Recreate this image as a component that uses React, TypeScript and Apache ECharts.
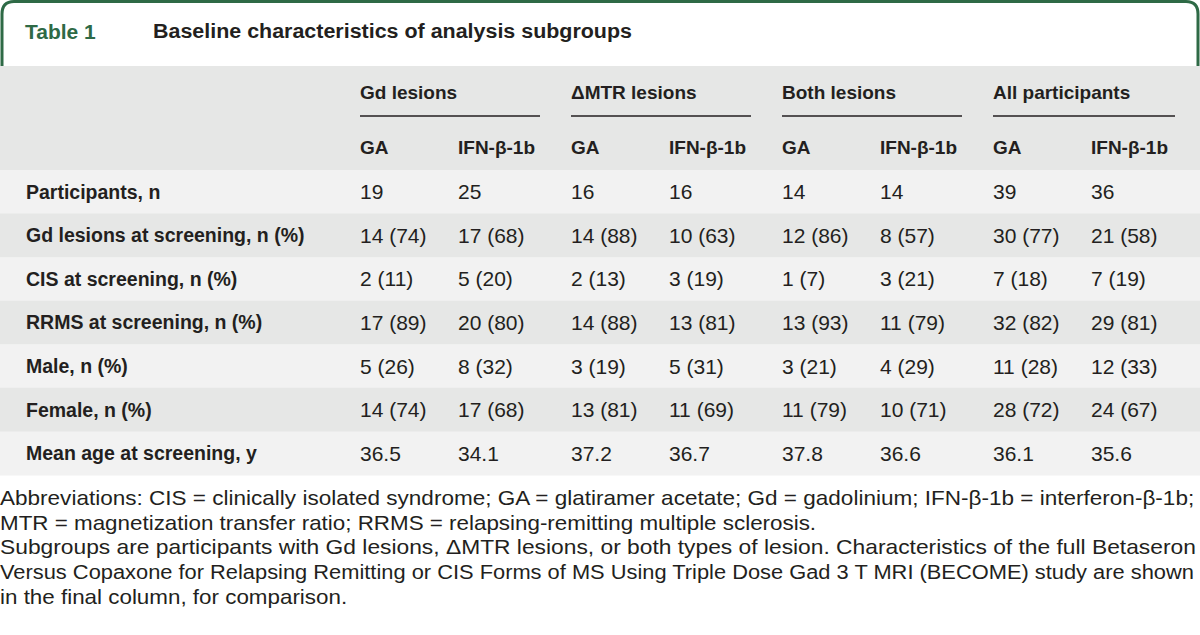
import React, { useEffect, useRef } from "react";
import * as echarts from "echarts";

const tableLabel = "Table 1";
const tableTitle = "Baseline characteristics of analysis subgroups";
const groupHeaders = ["Gd lesions", "ΔMTR lesions", "Both lesions", "All participants"];
const armHeaders = ["GA", "IFN-β-1b"];
const rowLabels = [
  "Participants, n",
  "Gd lesions at screening, n (%)",
  "CIS at screening, n (%)",
  "RRMS at screening, n (%)",
  "Male, n (%)",
  "Female, n (%)",
  "Mean age at screening, y",
];
const gdGA = ["19", "14 (74)", "2 (11)", "17 (89)", "5 (26)", "14 (74)", "36.5"];
const gdIFN = ["25", "17 (68)", "5 (20)", "20 (80)", "8 (32)", "17 (68)", "34.1"];
const mtrGA = ["16", "14 (88)", "2 (13)", "14 (88)", "3 (19)", "13 (81)", "37.2"];
const mtrIFN = ["16", "10 (63)", "3 (19)", "13 (81)", "5 (31)", "11 (69)", "36.7"];
const bothGA = ["14", "12 (86)", "1 (7)", "13 (93)", "3 (21)", "11 (79)", "37.8"];
const bothIFN = ["14", "8 (57)", "3 (21)", "11 (79)", "4 (29)", "10 (71)", "36.6"];
const allGA = ["39", "30 (77)", "7 (18)", "32 (82)", "11 (28)", "28 (72)", "36.1"];
const allIFN = ["36", "21 (58)", "7 (19)", "29 (81)", "12 (33)", "24 (67)", "35.6"];
const footnoteLines = [
  "Abbreviations: CIS = clinically isolated syndrome; GA = glatiramer acetate; Gd = gadolinium; IFN-β-1b = interferon-β-1b;",
  "MTR = magnetization transfer ratio; RRMS = relapsing-remitting multiple sclerosis.",
  "Subgroups are participants with Gd lesions, ΔMTR lesions, or both types of lesion. Characteristics of the full Betaseron",
  "Versus Copaxone for Relapsing Remitting or CIS Forms of MS Using Triple Dose Gad 3 T MRI (BECOME) study are shown",
  "in the final column, for comparison.",
];
const footnoteFullWidth = [true, false, true, true, false];

const columns = [gdGA, gdIFN, mtrGA, mtrIFN, bothGA, bothIFN, allGA, allIFN];

const GREEN = "#2e6a46";
const TEXT = "#231f20";
const FONT = '"Liberation Sans", Arial, sans-serif';

let frameRegistered = false;
function registerFrame() {
  if (frameRegistered) return;
  const d = "M2,66 L2,14 Q2,1.5 14,1.5 L1186,1.5 Q1198,1.5 1198,14 L1198,66";
  echarts.graphic.registerShape("tableframe", echarts.graphic.extendPath(d, {}));
  frameRegistered = true;
}

function measure(text: string, font: string): number {
  const c = document.createElement("canvas");
  const ctx = c.getContext("2d");
  if (!ctx) return 0;
  ctx.font = font;
  return ctx.measureText(text).width;
}

export default function App() {
  const ref = useRef<HTMLDivElement>(null);
  useEffect(() => {
    if (!ref.current) return;
    registerFrame();
    const chart = echarts.init(ref.current, null, { renderer: "svg" });

    const colX = [360, 458, 571, 669, 782, 880, 993, 1091];
    const groupSpans = [
      [360, 540],
      [571, 751],
      [782, 962],
      [993, 1175],
    ];
    const headTop = 66;
    const bodyTop = 170;
    const rowH = 43.57;

    const els: any[] = [];
    els.push({
      type: "tableframe",
      style: { stroke: GREEN, fill: "none", lineWidth: 3 },
      z: 1,
    });
    els.push({
      type: "text",
      x: 25,
      y: 31,
      style: { text: tableLabel, fill: GREEN, font: `bold 21px ${FONT}`, verticalAlign: "middle" },
      z: 5,
    });
    const titleFont = `bold 21px ${FONT}`;
    const tw = measure(tableTitle, titleFont) || 479;
    els.push({
      type: "text",
      x: 153,
      y: 31,
      scaleX: 479 / tw,
      style: { text: tableTitle, fill: TEXT, font: titleFont, verticalAlign: "middle" },
      z: 5,
    });
    els.push({
      type: "rect",
      shape: { x: 0, y: headTop, width: 1200, height: bodyTop - headTop },
      style: { fill: "#e6e7e6" },
      z: 2,
    });
    groupHeaders.forEach((g, i) => {
      els.push({
        type: "text",
        x: groupSpans[i][0],
        y: 92,
        style: { text: g, fill: TEXT, font: `bold 19px ${FONT}`, verticalAlign: "middle" },
        z: 5,
      });
      els.push({
        type: "line",
        shape: { x1: groupSpans[i][0], y1: 116, x2: groupSpans[i][1], y2: 116 },
        style: { stroke: TEXT, lineWidth: 1.5 },
        z: 5,
      });
    });
    colX.forEach((x, i) => {
      els.push({
        type: "text",
        x,
        y: 147,
        style: { text: armHeaders[i % 2], fill: TEXT, font: `bold 19px ${FONT}`, verticalAlign: "middle" },
        z: 5,
      });
    });
    rowLabels.forEach((lab, r) => {
      const y0 = bodyTop + r * rowH;
      els.push({
        type: "rect",
        shape: { x: 0, y: y0, width: 1200, height: rowH + 0.5 },
        style: { fill: r % 2 === 0 ? "#f2f2f2" : "#e6e7e6" },
        z: 2,
      });
      els.push({
        type: "text",
        x: 26,
        y: y0 + rowH / 2,
        style: { text: lab, fill: TEXT, font: `bold 19.5px ${FONT}`, verticalAlign: "middle" },
        z: 5,
      });
      columns.forEach((col, c) => {
        els.push({
          type: "text",
          x: colX[c],
          y: y0 + rowH / 2,
          style: { text: col[r], fill: TEXT, font: `21px ${FONT}`, verticalAlign: "middle" },
          z: 5,
        });
      });
    });
    // footnotes: condensed look, full lines fitted to the width
    const fnFont = `20px ${FONT}`;
    const widths = footnoteLines.map((t) => measure(t, fnFont));
    const fullScales: number[] = [];
    footnoteLines.forEach((_, i) => {
      if (footnoteFullWidth[i] && widths[i] > 0) fullScales.push(1196 / widths[i]);
    });
    const avgScale = fullScales.length
      ? fullScales.reduce((a, b) => a + b, 0) / fullScales.length
      : 0.88;
    const fnY = [498, 522.5, 547, 571.5, 596.5];
    footnoteLines.forEach((t, i) => {
      const s = footnoteFullWidth[i] && widths[i] > 0 ? 1196 / widths[i] : avgScale;
      els.push({
        type: "text",
        x: 0,
        y: fnY[i],
        scaleX: s,
        style: { text: t, fill: TEXT, font: fnFont, verticalAlign: "middle" },
        z: 5,
      });
    });

    chart.setOption({
      animation: false,
      backgroundColor: "#ffffff",
      graphic: { elements: els },
    });
    return () => chart.dispose();
  }, []);
  return (
    <div
      ref={ref}
      style={{ position: "fixed", left: 0, top: 0, width: 1200, height: 635 }}
    />
  );
}
